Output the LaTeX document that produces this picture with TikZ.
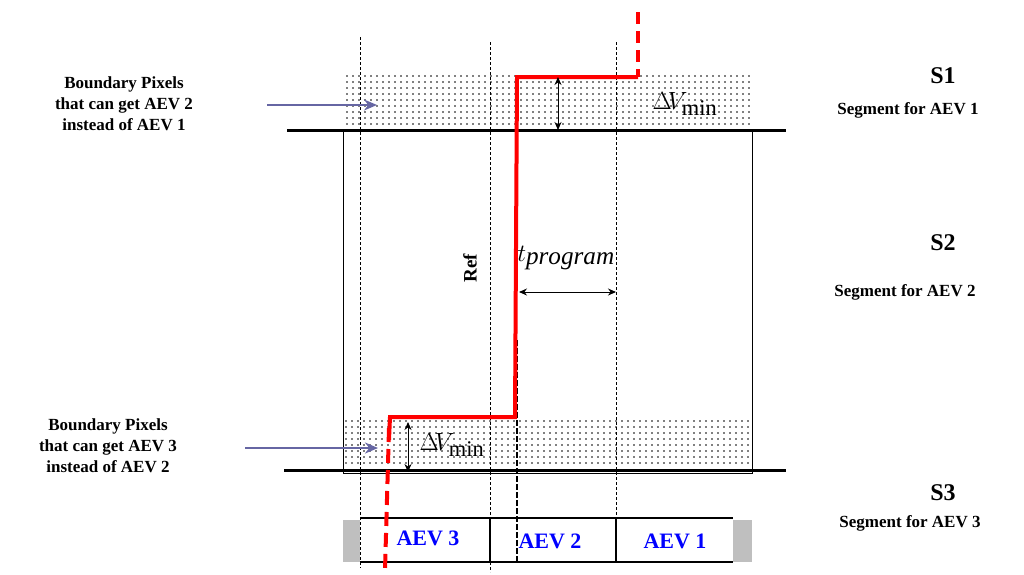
\documentclass[tikz,border=0pt]{standalone}
\usepackage{fontspec}
\setmainfont{Liberation Serif}
\usetikzlibrary{arrows.meta}
\begin{document}
\begin{tikzpicture}[x=1pt,y=-1pt,
  grid/.style={densely dashed,line width=0.7pt},
  red/.style={draw=red,line width=4pt},
  dim/.style={{Stealth[length=8pt,width=7pt]}-{Stealth[length=8pt,width=7pt]},line width=1pt},
  lab/.style={font=\bfseries\fontsize{17}{21}\selectfont,align=center},
  seg/.style={font=\bfseries\fontsize{17}{20}\selectfont},
  big/.style={font=\bfseries\fontsize{24}{26}\selectfont},
  aev/.style={font=\bfseries\fontsize{22}{24}\selectfont,text=blue},
  nav/.style={-{Stealth[length=13pt,width=11pt]},draw=black!60!blue!60,line width=2.4pt}]
\useasboundingbox (0,0) rectangle (1024,574);
\foreach \x in {347,353,...,751} \foreach \y in {76,82,...,128} \fill (\x,\y) circle (0.9pt);
\foreach \x in {346,352,...,750} \foreach \y in {421,427,...,468} \fill (\x,\y) circle (0.9pt);
\draw[line width=0.9pt] (343,130) -- (343,473) -- (752,473) -- (752,130);
\draw[line width=3pt] (287,130) -- (786,130);
\draw[line width=3pt] (284,470) -- (786,470);
\draw[grid] (360,37) -- (360,568);
\draw[grid] (490,42) -- (490,572);
\draw[grid] (616,42) -- (616,518);
% table
\fill[black!25] (343,520) rectangle (360,562);
\fill[black!25] (733,520) rectangle (752,562);
\draw[line width=1.1pt] (360,518) -- (733,518) (360,562) -- (733,562) (490,518) -- (490,562) (616,518) -- (616,562);
\node[aev] (a3) at (428,538) {AEV 3};
\node[aev] (a2) at (550,541) {AEV 2};
\node[aev] (a1) at (675,541) {AEV 1};
\draw[dashed,dash pattern=on 6pt off 2pt,line width=2pt] (517,340) -- (517,562);
% red
\coordinate (r0) at (638,12);
\coordinate (r1) at (638,77);
\coordinate (r2) at (517,77);
\coordinate (r3) at (515,417);
\coordinate (r4) at (390,417);
\coordinate (r5) at (385,570);
\draw[red,dash pattern=on 12pt off 7pt] (r0) -- (r1);
\draw[red,line join=miter] (r1) -- (r2) -- (r3) -- (r4) -- (389,440);
\draw[red,dash pattern=on 14pt off 7pt] (389,428) -- (r5);
% dims
\coordinate (d1) at (558,77); \coordinate (d2) at (558,130);
\draw[dim] (d1) -- (d2);
\coordinate (d3) at (408,422); \coordinate (d4) at (408,472);
\draw[dim] (d3) -- (d4);
\coordinate (t1) at (519,292); \coordinate (t2) at (616,292);
\draw[dim] (t1) -- (t2);
\node[font=\fontsize{32}{34}\selectfont] (dv1) at (685,104) {$\Delta\mkern-3mu V_{\mathrm{min}}$};
\node[font=\fontsize{32}{34}\selectfont] (dv2) at (452,445) {$\Delta\mkern-3mu V_{\mathrm{min}}$};
\node[font=\fontsize{36}{38}\selectfont] (tp) at (566,258) {$t_{\mathit{program}}$};
\node[rotate=90,font=\bfseries\fontsize{19}{21}\selectfont] (ref) at (470,268) {Ref};
% left
\node[lab] (b1) at (124,104) {Boundary Pixels\\that can get AEV 2\\instead of AEV 1};
\node[lab] (b2) at (108,446) {Boundary Pixels\\that can get AEV 3\\instead of AEV 2};
\coordinate (e1) at (377,105); \coordinate (s1) at (267,105);
\coordinate (e2) at (378,448); \coordinate (s2) at (245,448);
\draw[nav] (s1) -- (e1);
\draw[nav] (s2) -- (e2);
% right
\node[big] (S1) at (943,76) {S1};
\node[seg] (g1) at (908,110) {Segment for AEV 1};
\node[big] (S2) at (943,243) {S2};
\node[seg] (g2) at (905,292) {Segment for AEV 2};
\node[big] (S3) at (943,493) {S3};
\node[seg] (g3) at (910,523) {Segment for AEV 3};
\end{tikzpicture}
\end{document}
